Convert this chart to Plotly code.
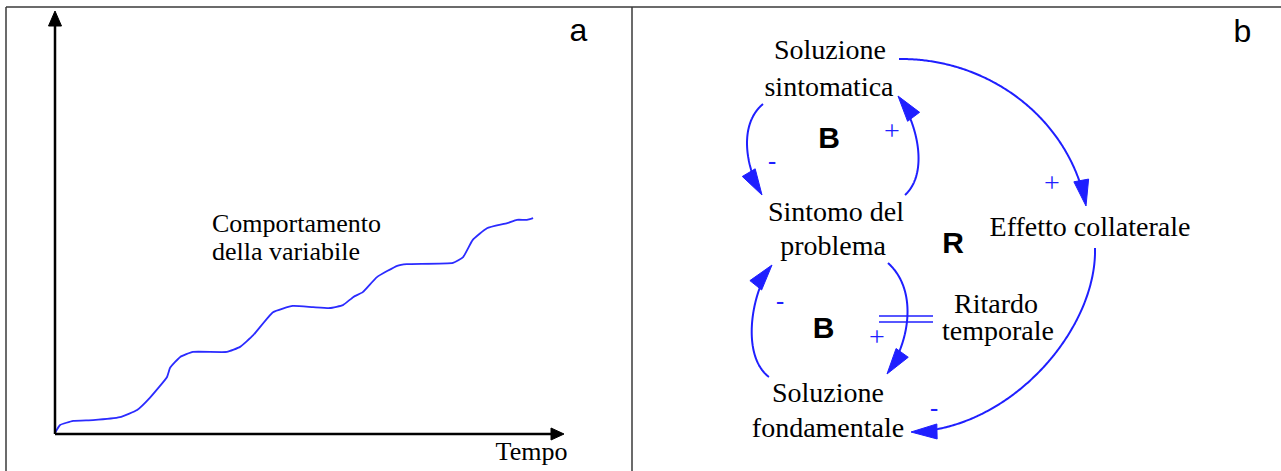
import numpy as np
import plotly.graph_objects as go

W, H = 1281, 471

# ---------------- data: panel a (behaviour over time) ----------------
tempo = [0, 1.0, 3.6, 7.5, 12.8, 16.2, 18.7, 22.1, 22.7, 24.7, 27.2, 33.9, 36.5,
         39.1, 43.0, 46.9, 50.9, 54.2, 56.8, 58.8, 60.7, 63.5, 67.5, 69.4, 78.5,
         80.5, 82.4, 85.2, 89.2, 91.1, 93.1, 94.3]
variabile = [0, 1.9, 2.9, 3.1, 3.8, 5.5, 8.4, 13.4, 15.6, 18.2, 19.4, 19.4, 20.6,
             23.4, 28.9, 30.4, 30.1, 29.9, 30.6, 32.5, 33.7, 37.3, 40.0, 40.4, 40.7,
             42.1, 46.2, 49.0, 50.2, 51.0, 51.0, 51.4]
label_curve = ["Comportamento", "della variabile"]
label_time = "Tempo"
panel_labels = ["a", "b"]

# ---------------- data: panel b (causal loop diagram) ----------------
node_lines = ["Soluzione", "sintomatica", "Sintomo del", "problema",
              "Effetto collaterale", "Ritardo", "temporale", "Soluzione", "fondamentale"]
loop_labels = ["B", "R", "B"]
plus_signs = ["+", "+", "+"]
minus_signs = ["-", "-", "-"]

BLUE = "#1f1fff"
fig = go.Figure()

# panel a curve on its own axes
fig.add_trace(go.Scatter(x=tempo, y=variabile, mode="lines",
                         line=dict(color="#2b2bff", width=1.8, shape="spline", smoothing=0.4),
                         xaxis="x", yaxis="y", hoverinfo="skip", showlegend=False))

shapes = []

def line(x0, y0, x1, y1, color, width):
    shapes.append(dict(type="line", xref="x2", yref="y2", x0=x0, y0=y0, x1=x1, y1=y1,
                       line=dict(color=color, width=width), layer="above"))

def head(tip, frm, color, L=26, hw=7.5):
    tip = np.array(tip, float); frm = np.array(frm, float)
    d = tip - frm; d /= np.hypot(*d)
    n = np.array([-d[1], d[0]])
    b = tip - d * L
    p1 = b + n * hw; p2 = b - n * hw
    path = f"M {tip[0]:.2f},{tip[1]:.2f} L {p1[0]:.2f},{p1[1]:.2f} L {p2[0]:.2f},{p2[1]:.2f} Z"
    shapes.append(dict(type="path", xref="x2", yref="y2", path=path,
                       fillcolor=color, line=dict(color=color, width=1), layer="above"))

def arc(P0, P1, P2, P3, color=BLUE, width=2):
    P = [np.array(p, float) for p in (P0, P1, P2, P3)]
    t = np.linspace(0, 1, 200)[:, None]
    pts = ((1 - t) ** 3) * P[0] + 3 * ((1 - t) ** 2) * t * P[1] + 3 * (1 - t) * t ** 2 * P[2] + t ** 3 * P[3]
    dist = np.hypot(*(pts - P[3]).T)
    pts = pts[dist > 18]
    path = "M " + " L ".join(f"{x:.2f},{y:.2f}" for x, y in pts)
    shapes.append(dict(type="path", xref="x2", yref="y2", path=path,
                       line=dict(color=color, width=width), layer="above"))
    head(P3, P2, color)

# frame
BORDER = "#3a3a3a"
line(6, 7, W, 7, BORDER, 1.5)
line(6, 7, 6, H, BORDER, 1.5)
line(632, 7, 632, H, BORDER, 1.5)

# panel a axes arrows
line(55, 434, 55, 24, "black", 2.5)
head((55, 11), (55, 40), "black", L=15, hw=6.5)
line(55, 434, 552, 434, "black", 2.5)
head((564, 434), (540, 434), "black", L=13, hw=6)

# panel b arcs
arc((763, 104), (738, 125), (746, 168), (762, 195))
arc((905, 195), (930, 172), (916, 120), (898, 96))
arc((899, 59), (990, 58), (1070, 120), (1086, 206))
arc((1095, 248), (1097, 330), (1010, 430), (911, 432))
arc((769, 377), (740, 355), (752, 290), (772, 265))
arc((888, 263), (918, 290), (910, 342), (887, 374))

# delay marks
line(879, 316, 933, 316, BLUE, 1.6)
line(879, 322, 933, 322, BLUE, 1.6)

# ---------------- text ----------------
def texts(xs, baselines, labels, family, size, color="black", pos="middle center", shift=0.25, weight="normal"):
    ys = [b - shift * size for b in baselines]
    fig.add_trace(go.Scatter(x=xs, y=ys, text=labels, mode="text", textposition=pos,
                             textfont=dict(family=family, size=size, color=color, weight=weight),
                             xaxis="x2", yaxis="y2", hoverinfo="skip", showlegend=False))

SERIF = "Liberation Serif, Times New Roman, serif"
SANS = "Liberation Sans, Arial, sans-serif"

texts([212, 212], [232, 260], label_curve, SERIF, 26, pos="middle right")
texts([531.5], [460], [label_time], SERIF, 26)
texts([578.5, 1242.5], [41, 42], panel_labels, SANS, 32)

texts([830, 829, 836, 833, 1090, 996, 998, 828, 828],
      [59, 96, 221, 255, 236, 313, 340, 402, 437], node_lines, SERIF, 28)
texts([829, 953, 823.5], [148, 253, 338], loop_labels, SANS, 30, weight="bold")
# polarity signs: glyph centre given directly
fig.add_trace(go.Scatter(x=[892, 1052, 877], y=[133, 185, 339], text=plus_signs, mode="text",
                         textposition="middle center",
                         textfont=dict(family=SERIF, size=28, color=BLUE),
                         xaxis="x2", yaxis="y2", hoverinfo="skip", showlegend=False))
fig.add_trace(go.Scatter(x=[772, 780, 934], y=[163, 303, 410], text=minus_signs, mode="text",
                         textposition="middle center",
                         textfont=dict(family=SANS, size=26, color=BLUE),
                         xaxis="x2", yaxis="y2", hoverinfo="skip", showlegend=False))

hidden = dict(visible=False, showgrid=False, zeroline=False, fixedrange=True)
fig.update_layout(
    width=W, height=H, margin=dict(l=0, r=0, t=0, b=0),
    paper_bgcolor="white", plot_bgcolor="rgba(0,0,0,0)",
    xaxis=dict(domain=[55 / W, 562 / W], range=[0, 100], anchor="y", **hidden),
    yaxis=dict(domain=[(H - 433) / H, (H - 15) / H], range=[0, 100], anchor="x", **hidden),
    xaxis2=dict(domain=[0, 1], range=[0, W], anchor="y2", **hidden),
    yaxis2=dict(domain=[0, 1], range=[H, 0], anchor="x2", **hidden),
    shapes=shapes, showlegend=False,
)
fig.write_html("out.html", config={"displayModeBar": False},
               post_script="document.body.style.margin='0';document.body.style.overflow='hidden';")
